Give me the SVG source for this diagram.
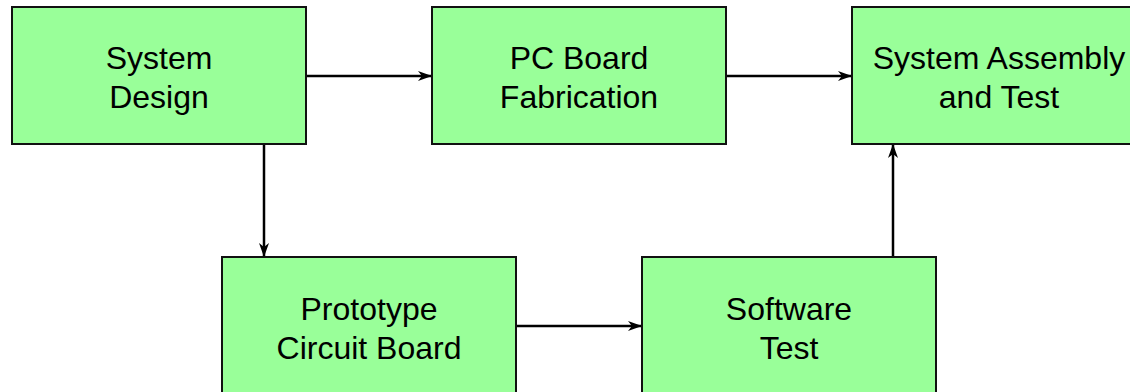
<svg xmlns="http://www.w3.org/2000/svg" width="1130" height="392" viewBox="0 0 1130 392">
  <style>
    .box { fill: #99ff99; stroke: #111111; stroke-width: 2; }
    .lbl { font-family: "Liberation Sans", Arial, sans-serif; font-size: 32px; fill: #000000; text-anchor: middle; }
    .conn { stroke: #000000; stroke-width: 2.5; fill: none; marker-end: url(#arrow); }
  </style>
  <defs>
    <marker id="arrow" markerWidth="14" markerHeight="10" refX="13" refY="5" orient="auto" markerUnits="userSpaceOnUse">
      <path d="M0,0 L14,5 L0,10 L4,5 Z" fill="#000000"/>
    </marker>
  </defs>
  <rect width="1130" height="392" fill="#ffffff"/>
  <g id="system-design">
    <rect class="box" x="12" y="7" width="294" height="137"/>
    <text class="lbl" x="159" y="69">System</text>
    <text class="lbl" x="159" y="108">Design</text>
  </g>
  <g id="pc-board">
    <rect class="box" x="432" y="7" width="294" height="137"/>
    <text class="lbl" x="579" y="69">PC Board</text>
    <text class="lbl" x="579" y="108">Fabrication</text>
  </g>
  <g id="system-assembly">
    <rect class="box" x="852" y="7" width="294" height="137"/>
    <text class="lbl" x="999" y="69">System Assembly</text>
    <text class="lbl" x="999" y="108">and Test</text>
  </g>
  <g id="prototype">
    <rect class="box" x="222" y="257" width="294" height="140"/>
    <text class="lbl" x="369" y="320">Prototype</text>
    <text class="lbl" x="369" y="359">Circuit Board</text>
  </g>
  <g id="software-test">
    <rect class="box" x="642" y="257" width="294" height="140"/>
    <text class="lbl" x="789" y="320">Software</text>
    <text class="lbl" x="789" y="359">Test</text>
  </g>
  <g id="connectors">
    <line class="conn" x1="307" y1="76" x2="431" y2="76"/>
    <line class="conn" x1="727" y1="76" x2="851" y2="76"/>
    <line class="conn" x1="264" y1="145" x2="264" y2="256"/>
    <line class="conn" x1="517" y1="326" x2="641" y2="326"/>
    <line class="conn" x1="893" y1="256" x2="893" y2="145"/>
  </g>
</svg>
